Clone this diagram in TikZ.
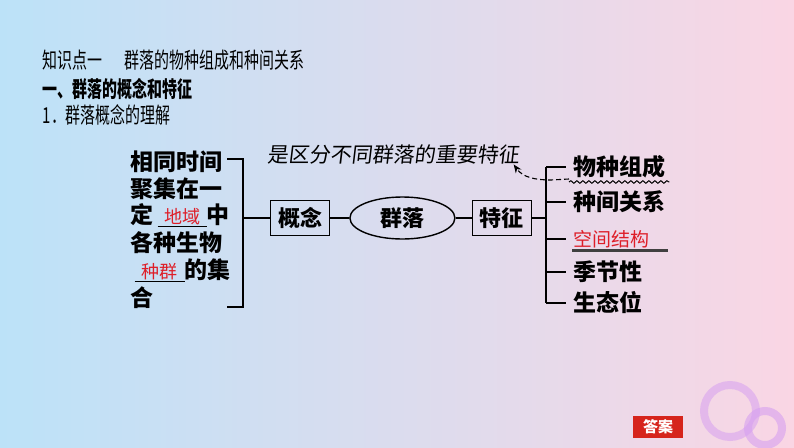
\documentclass[tikz,border=0pt]{standalone}
\usepackage{fontspec}
\setmainfont{Noto Sans CJK SC}
\newfontfamily\cjkcond[FakeStretch=0.68]{Noto Sans CJK SC}
\newfontfamily\cjkhand[FakeSlant=0.12]{Noto Sans CJK SC}
\usetikzlibrary{arrows.meta, positioning, shapes.geometric, decorations.pathmorphing}

\definecolor{bgblue}{RGB}{188,226,248}
\definecolor{bgmid}{RGB}{236,240,251}
\definecolor{bgpink}{RGB}{250,214,228}
\definecolor{ringpurple}{RGB}{214,160,240}
\definecolor{ansred}{RGB}{214,36,28}
\definecolor{keyred}{RGB}{222,30,40}

\begin{document}
\begin{tikzpicture}[
  x=1pt, y=-1pt,
  line width=1.4pt,
  title/.style={font=\cjkcond\fontsize{22}{22}\selectfont, inner sep=0pt, anchor=west},
  word/.style={font=\fontsize{23}{23}\selectfont\bfseries, inner sep=0pt, anchor=west},
  box/.style={rectangle, draw, line width=1.4pt, minimum width=59pt, minimum height=35pt, inner sep=0pt, font=\fontsize{22}{22}\selectfont\bfseries},
  oval/.style={ellipse, draw, line width=1.4pt, minimum width=105pt, minimum height=42pt, inner sep=0pt, font=\fontsize{22}{22}\selectfont\bfseries},
  key/.style={color=keyred, font=\fontsize{17}{17}\selectfont},
  hand/.style={font=\cjkhand\fontsize{21}{21}\selectfont, inner sep=0pt},
  >={Stealth[length=3mm, width=2.4mm]}
]
  \useasboundingbox (0,0) rectangle (794,447);
  \shade[left color=bgblue, middle color=bgmid, right color=bgpink] (0,0) rectangle (794,447);

  % rings bottom right
  \draw[ringpurple, opacity=0.55, line width=8pt] (730,411) circle[radius=26pt];
  \draw[ringpurple, opacity=0.6, line width=8pt] (765,428) circle[radius=17pt];

  % headings
  \node[title] (t1) at (42,60) {知识点一\hspace{22pt}群落的物种组成和种间关系};
  \node[title, font=\cjkcond\fontsize{22}{22}\selectfont\bfseries] (t2) at (42,89) {一、群落的概念和特征};
  \node[title] (t3) at (42,115) {1．群落概念的理解};

  % left text
  \node[word] (l1) at (130,162) {相同时间};
  \node[word] (l2) at (130,189) {聚集在一};
  \node[word] (l3) at (130,215) {定\hspace{4pt}\underline{\makebox[49pt]{\color{keyred}\mdseries\fontsize{18}{18}\selectfont 地域}}中};
  \node[word] (l4) at (130,243) {各种生物};
  \node[word] (l5) at (134,270) {\underline{\makebox[50pt]{\color{keyred}\mdseries\fontsize{18}{18}\selectfont 种群}}的集};
  \node[word] (l6) at (130,298) {合};

  \coordinate (lt) at (227,159);
  \coordinate (lb) at (227,307);
  \coordinate (lm) at (243,218);
  \draw (lt) -- (lt -| lm) -- (lb -| lm) -- (lb);

  % chain
  \node[box] (gn) at (300,218) {概念};
  \node[oval, right=19pt of gn] (ql) {群落};
  \node[box, right=16pt of ql] (tz) {特征};
  \coordinate (rm) at (546,218);

  \draw (lm) -- (gn);
  \draw (gn) -- (ql);
  \draw (ql) -- (tz);
  \draw (tz) -- (rm);

  % features
  \node[word] (f1) at (573,167) {物种组成};
  \node[word] (f2) at (573,202) {种间关系};
  \node[word, key, font=\fontsize{19}{19}\selectfont] (f3) at (573,239) {空间结构};
  \node[word] (f4) at (573,272) {季节性};
  \node[word] (f5) at (573,303) {生态位};

  \draw (rm |- f1.west) -- (rm |- f5.west);
  \foreach \f in {f1,f2,f3,f4,f5}
    \draw (rm |- \f.west) -- ([xshift=-7pt]\f.west);

  \draw[decorate, decoration={snake, amplitude=1.3pt, segment length=6pt}, line width=1pt]
    ([xshift=-4pt,yshift=-3pt]f1.south west) -- ([xshift=3pt,yshift=-3pt]f1.south east);
  \draw[line width=2.2pt, black!75] ([xshift=-1pt,yshift=-2pt]f3.south west) -- ([xshift=18pt,yshift=-2pt]f3.south east);

  % note
  \node[hand] (note) at (393,155) {是区分不同群落的重要特征};
  \coordinate (w) at ([xshift=-4pt,yshift=0pt]f1.south west);
  \draw[dash pattern=on 5pt off 3pt, line width=1.1pt, ->] (w) -- ++(-18,1) to[out=180, in=-55] ([xshift=-6pt,yshift=1pt]note.south east);

  % answer button
  \node[fill=ansred, text=white, font=\fontsize{15}{15}\selectfont\bfseries, minimum width=50pt, minimum height=22pt, inner sep=0pt] (ans) at (658,427) {答案};
\end{tikzpicture}
\end{document}
